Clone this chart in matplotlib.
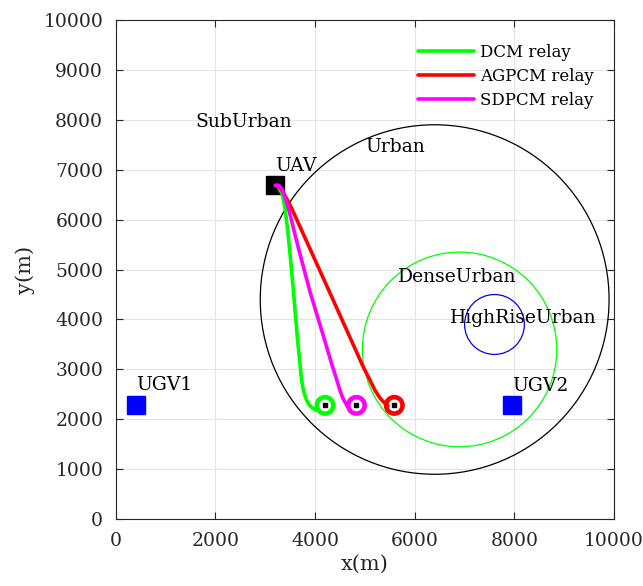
import matplotlib
matplotlib.use("Agg")
import matplotlib.pyplot as plt
from matplotlib.patches import Circle

plt.rcParams["font.family"] = ["DejaVu Serif"]

# zone circles: (cx, cy, r, colour)
ZONE_CX = [6400, 6900, 7600]
ZONE_CY = [4400, 3400, 3900]
ZONE_R = [3500, 1950, 600]
ZONE_COL = ["black", "#00ff00", "#0000ff"]

# relay trajectories
DCM_X = [3240, 3340, 3400, 3450, 3500, 3568, 3649, 3690, 3729, 3770, 3829, 3890, 3962, 4040]
DCM_Y = [6690, 6520, 6200, 5800, 5285, 4549, 3587, 3186, 2786, 2560, 2385, 2280, 2218, 2180]
SDPCM_X = [3199, 3280, 3333, 3370, 3410, 3468, 3669, 3900, 4131, 4331, 4420, 4498, 4560, 4633, 4670]
SDPCM_Y = [6687, 6680, 6619, 6540, 6400, 6218, 5417, 4549, 3788, 3120, 2840, 2585, 2420, 2285, 2250]
AGPCM_X = [3240, 3330, 3420, 3534, 4250, 4966, 5100, 5201, 5300, 5402, 5460]
AGPCM_Y = [6690, 6600, 6440, 6218, 4640, 3052, 2790, 2585, 2430, 2319, 2270]

# loiter circle centres
LOITER_X = [4200, 4830, 5590]
LOITER_Y = [2280, 2280, 2280]
LOITER_COL = ["#00ff00", "#ff00ff", "#ff0000"]
LOITER_R = 165

UAV = (3200, 6700)
UGV1 = (400, 2290)
UGV2 = (7960, 2290)

LABELS = ["SubUrban", "Urban", "UAV", "DenseUrban", "HighRiseUrban", "UGV1", "UGV2"]
LABEL_X = [1600, 5000, 3200, 5660, 6700, 400, 7960]
LABEL_Y = [7960, 7460, 7080, 4850, 4020, 2680, 2660]

fig = plt.figure(figsize=(6.43, 5.86), dpi=100)
ax = fig.add_axes([0.180, 0.114, 0.775, 0.852])
dark = "#262626"

for cx, cy, r, c in zip(ZONE_CX, ZONE_CY, ZONE_R, ZONE_COL):
    ax.add_patch(Circle((cx, cy), r, fill=False, ec=c, lw=0.9, zorder=2))

line_kw = dict(lw=2.6, zorder=3, solid_joinstyle="round", solid_capstyle="round")
ax.plot(DCM_X, DCM_Y, color="#00ff00", label="DCM relay", **line_kw)
ax.plot(AGPCM_X, AGPCM_Y, color="#ff0000", label="AGPCM relay", **line_kw)
ax.plot(SDPCM_X, SDPCM_Y, color="#ff00ff", label="SDPCM relay", **line_kw)

for x, y, c in zip(LOITER_X, LOITER_Y, LOITER_COL):
    ax.add_patch(Circle((x, y), LOITER_R, fill=False, ec=c, lw=3.3, zorder=4))
ax.plot(LOITER_X, LOITER_Y, "s", color="black", ms=3.2, ls="none", zorder=5)

ax.plot([UAV[0]], [UAV[1]], "s", color="black", ms=13, zorder=2.5)
ax.plot([UGV1[0], UGV2[0]], [UGV1[1], UGV2[1]], "s", color="#0000ff", ms=13, ls="none", zorder=5)

for s, x, y in zip(LABELS, LABEL_X, LABEL_Y):
    ax.text(x, y, s, ha="left", va="center", fontsize=13.5, color="black", zorder=6)

ax.set_xlim(0, 10000)
ax.set_ylim(0, 10000)
ax.set_xticks(range(0, 10001, 2000))
ax.set_yticks(range(0, 10001, 1000))
ax.grid(True, color="#e3e3e3", lw=0.8)
ax.set_axisbelow(True)
ax.tick_params(direction="in", top=True, right=True, length=5, width=0.8,
               labelsize=13.5, colors=dark, pad=9)
for sp in ax.spines.values():
    sp.set_color(dark)
    sp.set_linewidth(0.8)
ax.set_xlabel("x(m)", fontsize=15, color=dark, labelpad=4)
ax.set_ylabel("y(m)", fontsize=15, color=dark, labelpad=6)

ax.legend(loc="upper left", bbox_to_anchor=(0.606, 0.952), frameon=False, fontsize=12,
          handlelength=3.4, handletextpad=0.35, labelspacing=0.42, borderpad=0,
          borderaxespad=0)

fig.savefig("out.png", dpi=100, facecolor="white")
